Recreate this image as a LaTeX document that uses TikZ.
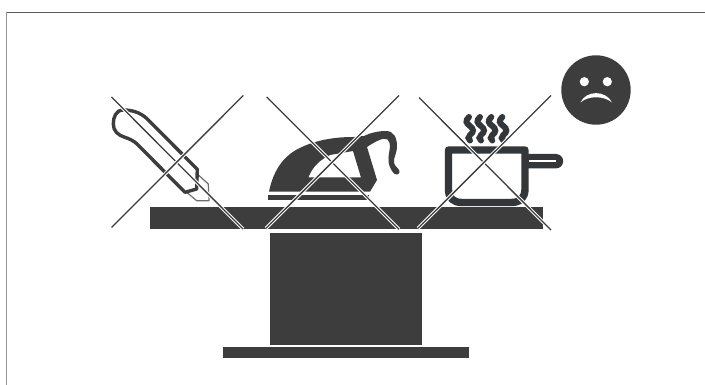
\documentclass[tikz,border=0pt]{standalone}
\definecolor{ink}{HTML}{3D3D3D}
\definecolor{panink}{HTML}{33373A}
\tikzset{
  solid block/.style={fill=ink,draw=none},
  outline/.style={draw=ink,line width=3.4pt,line join=round,fill=none},
  blade/.style={draw=ink!75,line width=1.2pt,line join=round,fill=white},
  panline/.style={draw=panink,line width=7.4pt,line join=round,fill=none},
  steam/.style={draw=panink,line width=6pt,line cap=round,fill=none},
  halo/.style={draw=white,line width=3.4pt},
  core/.style={draw=ink,line width=1.3pt}
}
\newcommand{\crossline}[2]{\draw[halo] #1 -- #2; \draw[core] #1 -- #2;}
\newcommand{\steamwave}[1]{\draw[steam,shift={(#1,0)}] (-1,117) .. controls (-5,121) and (-4,123) .. (0,126) .. controls (4,129) and (4,132) .. (0,135) .. controls (-2,137) and (-2,139) .. (0,140.5);}
\begin{document}
\begin{tikzpicture}[x=1pt,y=-1pt]
\useasboundingbox (0,0) rectangle (705,385);
\fill[white] (0,0) rectangle (705,385);
% frame
\draw[draw=ink!85,line width=1.2pt] (6,12.5) -- (705,12.5);
\draw[draw=ink!55,line width=1.6pt] (6.5,12) -- (6.5,385);
% table
\fill[solid block] (150,207) rectangle (543,229);
\fill[solid block] (270,233) rectangle (422,345);
\fill[solid block] (223,347) rectangle (469,358);
% knife
\draw[blade] (197.3,174) -- (208.3,184) -- (209,200.7) -- (196.7,200.7) -- (186.7,192.3);
\draw[outline] (123.3,110) .. controls (116,110) and (113.3,117) .. (113.3,124)
  .. controls (113.3,131) and (118,135) .. (124,137)
  .. controls (130,139) and (134,141) .. (137,144)
  -- (185,192.3) -- (196.7,189) -- (197.3,169.3) -- (150,121.7)
  .. controls (143,114) and (135,110) .. (123.3,110) -- cycle;
% iron
\fill[ink,even odd rule] (269,191.7)
  .. controls (273,172) and (282,158) .. (296,150)
  .. controls (312,141) and (332,137) .. (353,137)
  -- (364,136) .. controls (370,133) and (378,131) .. (386,131)
  .. controls (394,131) and (397,138) .. (397,146)
  .. controls (397,154) and (393,158) .. (394,163)
  .. controls (395,167) and (400,169) .. (399.5,172)
  .. controls (399,176) and (394,175) .. (392,171)
  .. controls (388,165) and (388,160) .. (389,153)
  .. controls (390,148) and (391,143) .. (387.5,139.5)
  .. controls (384,137) and (376,141) .. (367,147)
  -- (377,180) -- (370,191.7) -- cycle
  (308.3,177.5) .. controls (313,166) and (320,160) .. (330,155)
  -- (353,151) -- (361,177.5) -- cycle;
\fill[solid block] (268,195) rectangle (369,200);
% pan
\draw[panline] (448.5,150) -- (525,150) -- (525,189)
  .. controls (525,198) and (520,202.5) .. (511,202.5)
  -- (462,202.5) .. controls (453,202.5) and (448.5,198) .. (448.5,189) -- cycle;
\fill[panink] (527,154) -- (556,154) arc[start angle=-90,end angle=90,radius=7.2] -- (527,168.4) -- cycle;
\draw[white,line width=1.5pt] (529,161) -- (556,161);
\steamwave{470}\steamwave{481}\steamwave{492.3}\steamwave{503.3}
% face
\fill[ink] (596,90) circle[radius=34.7];
\fill[white] (584.3,81.7) circle[radius=4.6];
\fill[white] (607.3,81.7) circle[radius=4.6];
\fill[white] (580.5,102.5) .. controls (586,90) and (606,90) .. (612,102.5)
  .. controls (604,95.5) and (588,95.5) .. (580.5,102.5) -- cycle;
% crosses
\crossline{(111.5,97)}{(243,229)}
\crossline{(243.3,95.5)}{(111.5,227.5)}
\crossline{(266.7,97)}{(399,229.3)}
\crossline{(399,95.5)}{(266,228.3)}
\crossline{(419,97.5)}{(551,230)}
\crossline{(551,95.5)}{(418,228.3)}
\end{tikzpicture}
\end{document}
